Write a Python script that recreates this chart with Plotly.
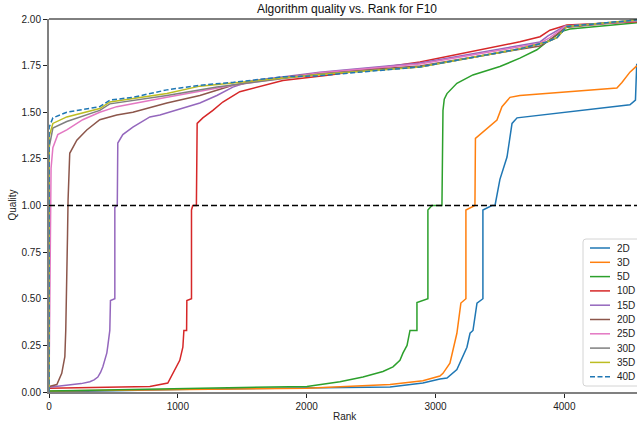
import plotly.graph_objects as go

# Rank / quality samples for each problem dimension (F10)
labels = ["2D", "3D", "5D", "10D", "15D", "20D", "25D", "30D", "35D", "40D"]
colors = ["#1f77b4", "#ff7f0e", "#2ca02c", "#d62728", "#9467bd",
          "#8c564b", "#e377c2", "#7f7f7f", "#bcbd22", "#1f77b4"]

rank_2d = [0, 1093, 2647, 2902, 3034, 3089, 3166, 3213, 3244, 3268, 3291, 3322, 3368, 3368,
           3438, 3462, 3500, 3555, 3578, 3594, 3633, 3757, 4509, 4552, 4562]
quality_2d = [0.0, 0.015, 0.027, 0.048, 0.07, 0.075, 0.12, 0.19, 0.24, 0.315, 0.33, 0.476, 0.50, 0.976,
              1.0, 1.0, 1.14, 1.26, 1.37, 1.44, 1.47, 1.48, 1.54, 1.565, 1.76]

rank_3d = [0, 2002, 2647, 2902, 3034, 3058, 3112, 3135, 3166, 3197, 3236, 3236, 3283, 3306, 3310,
           3399, 3477, 3516, 3578, 3655, 4408, 4447, 4509, 4564]
quality_3d = [0.005, 0.02, 0.04, 0.06, 0.086, 0.10, 0.155, 0.225, 0.315, 0.477, 0.50, 0.976, 0.99, 1.0, 1.36,
              1.415, 1.458, 1.53, 1.58, 1.59, 1.63, 1.66, 1.715, 1.75]

rank_5d = [0, 1093, 2002, 2258, 2437, 2592, 2670, 2724, 2748, 2779, 2802, 2856, 2856, 2941, 2941, 2972,
           3050, 3058, 3068, 3089, 3166, 3290, 3500, 3655, 3787, 3888, 3989, 4043, 4564]
quality_5d = [0.005, 0.02, 0.03, 0.055, 0.08, 0.11, 0.135, 0.17, 0.21, 0.25, 0.33, 0.33, 0.48, 0.50, 0.976, 1.0,
              1.0, 1.51, 1.57, 1.60, 1.655, 1.70, 1.745, 1.79, 1.835, 1.89, 1.935, 1.946, 1.98]

rank_10d = [0, 394, 783, 922, 961, 1015, 1039, 1047, 1068, 1070, 1106, 1106, 1116, 1144, 1150, 1194,
            1272, 1349, 1481, 1613, 1815, 2180, 2879, 3655, 3811, 3888, 4020, 4564]
quality_10d = [0.02, 0.025, 0.03, 0.048, 0.10, 0.17, 0.24, 0.33, 0.33, 0.49, 0.50, 0.976, 1.0, 1.0, 1.44, 1.47,
               1.51, 1.555, 1.61, 1.635, 1.67, 1.70, 1.77, 1.878, 1.905, 1.94, 1.968, 1.985]

rank_15d = [0, 185, 250, 317, 350, 379, 400, 418, 449, 457, 472, 477, 511, 511, 530, 534, 573, 651, 783,
            861, 1039, 1171, 1303, 1427, 1582, 2102, 2879, 3655, 3811, 3873, 4005, 4564]
quality_15d = [0.025, 0.04, 0.045, 0.055, 0.065, 0.08, 0.105, 0.135, 0.21, 0.25, 0.33, 0.49, 0.50, 0.99, 1.0,
               1.335, 1.38, 1.42, 1.475, 1.485, 1.52, 1.55, 1.59, 1.635, 1.67, 1.715, 1.764, 1.855, 1.877,
               1.91, 1.962, 1.99]

rank_20d = [0, 61, 99, 123, 130, 136, 144, 148, 161, 216, 293, 394, 526, 651, 915, 1171, 1427, 1637,
            2102, 2879, 3811, 3888, 4005, 4564]
quality_20d = [0.03, 0.04, 0.10, 0.19, 0.33, 0.49, 0.85, 1.03, 1.28, 1.35, 1.405, 1.46, 1.485, 1.50, 1.55,
               1.59, 1.645, 1.67, 1.71, 1.748, 1.855, 1.887, 1.955, 1.99]

rank_25d = [0, 4, 8, 12, 16, 30, 68, 138, 262, 394, 526, 915, 1427, 2102, 2879, 3811, 3888, 4005, 4564]
quality_25d = [0.02, 0.25, 0.6, 1.0, 1.2, 1.31, 1.38, 1.405, 1.46, 1.50, 1.53, 1.58, 1.645, 1.712, 1.759,
               1.87, 1.90, 1.96, 1.99]

rank_30d = [0, 1, 30, 138, 394, 472, 915, 1303, 2102, 2879, 3655, 3865, 3943, 4020, 4564]
quality_30d = [0.0, 1.31, 1.415, 1.45, 1.51, 1.545, 1.59, 1.635, 1.705, 1.743, 1.84, 1.877, 1.90, 1.96, 1.995]

rank_35d = [0, 1, 30, 138, 394, 472, 915, 1171, 2102, 2879, 3655, 3865, 3943, 4020, 4564]
quality_35d = [0.0, 1.37, 1.44, 1.475, 1.52, 1.555, 1.60, 1.64, 1.703, 1.743, 1.84, 1.877, 1.90, 1.96, 1.995]

rank_40d = [0, 1, 30, 138, 394, 472, 651, 915, 1171, 1427, 1815, 2079, 2879, 3655, 3865, 3943, 4020, 4564]
quality_40d = [0.0, 1.42, 1.47, 1.50, 1.53, 1.565, 1.58, 1.62, 1.645, 1.66, 1.69, 1.695, 1.743, 1.84, 1.877,
               1.90, 1.96, 1.995]

ranks = [rank_2d, rank_3d, rank_5d, rank_10d, rank_15d, rank_20d, rank_25d, rank_30d, rank_35d, rank_40d]
qualities = [quality_2d, quality_3d, quality_5d, quality_10d, quality_15d, quality_20d, quality_25d,
             quality_30d, quality_35d, quality_40d]

FONT = "Liberation Sans, Arial, Helvetica, sans-serif"
W, H = 637, 423
L, R, T, B = 49, 0, 19, 31
PW, PH = W - L - R, H - T - B


def px_x(px):
    """Horizontal pixel position -> paper coordinate."""
    return (px - L) / PW


def px_y(py):
    """Vertical pixel position (from top) -> paper coordinate."""
    return (H - B - py) / PH


def dash_of(name):
    return "5px,2.5px" if name == "40D" else "solid"


fig = go.Figure()
for name, color, xs, ys in zip(labels, colors, ranks, qualities):
    fig.add_trace(go.Scatter(
        x=xs, y=ys, mode="lines", name=name, showlegend=False,
        line=dict(color=color, width=1.5, dash=dash_of(name)),
    ))

shapes = [
    # threshold at quality 1.0
    dict(type="line", xref="paper", yref="y", x0=0, x1=1, y0=1.0, y1=1.0,
         line=dict(color="black", width=1.5, dash="6px,3px")),
    # top frame edge
    dict(type="line", xref="paper", yref="paper", x0=0, x1=1, y0=1, y1=1,
         line=dict(color="black", width=1)),
]

# legend box (rounded) in the lower right corner
bx0, bx1, by0, by1, rad = 583, 650, 239, 386, 3
path = (f"M {px_x(bx0 + rad)},{px_y(by0)} L {px_x(bx1 - rad)},{px_y(by0)} "
        f"Q {px_x(bx1)},{px_y(by0)} {px_x(bx1)},{px_y(by0 + rad)} "
        f"L {px_x(bx1)},{px_y(by1 - rad)} Q {px_x(bx1)},{px_y(by1)} {px_x(bx1 - rad)},{px_y(by1)} "
        f"L {px_x(bx0 + rad)},{px_y(by1)} Q {px_x(bx0)},{px_y(by1)} {px_x(bx0)},{px_y(by1 - rad)} "
        f"L {px_x(bx0)},{px_y(by0 + rad)} Q {px_x(bx0)},{px_y(by0)} {px_x(bx0 + rad)},{px_y(by0)} Z")
shapes.append(dict(type="path", xref="paper", yref="paper", path=path,
                   fillcolor="rgba(255,255,255,0.85)", line=dict(color="#d4d4d4", width=1)))

annotations = [
    dict(text="Rank", xref="paper", yref="paper", x=px_x(345), y=0, yshift=-24,
         showarrow=False, xanchor="center", yanchor="middle", font=dict(size=10)),
    dict(text="Quality", xref="paper", yref="paper", x=0, xshift=-37, y=0.5, textangle=-90,
         showarrow=False, xanchor="center", yanchor="middle", font=dict(size=10)),
]

row0, step = 248, 14.3
for i, (name, color) in enumerate(zip(labels, colors)):
    ry = row0 + i * step
    shapes.append(dict(type="line", xref="paper", yref="paper",
                       x0=px_x(590), x1=px_x(610), y0=px_y(ry), y1=px_y(ry),
                       line=dict(color=color, width=1.5, dash=dash_of(name))))
    annotations.append(dict(text=name, xref="paper", yref="paper", x=px_x(615), y=px_y(ry),
                            showarrow=False, xanchor="left", yanchor="middle",
                            font=dict(size=10, color="#222")))

fig.update_layout(
    width=W, height=H,
    margin=dict(l=L, r=R, t=T, b=B),
    plot_bgcolor="white", paper_bgcolor="white",
    font=dict(family=FONT, size=10, color="#222"),
    title=dict(text="Algorithm quality vs. Rank for F10", x=347 / W, xref="container",
               xanchor="center", y=1 - 9 / H, yref="container", yanchor="middle",
               font=dict(size=12, color="#111")),
    showlegend=False,
    shapes=shapes,
    annotations=annotations,
)
fig.update_xaxes(range=[0, 4564], tickvals=[0, 1000, 2000, 3000, 4000], showgrid=False, zeroline=False,
                 showline=True, linecolor="#808080", linewidth=2, ticks="outside", ticklen=4,
                 tickcolor="#222", tickfont=dict(size=10))
fig.update_yaxes(range=[0, 2], tickvals=[0, 0.25, 0.5, 0.75, 1.0, 1.25, 1.5, 1.75, 2.0], tickformat=".2f",
                 showgrid=False, zeroline=False, showline=True, linecolor="#808080", linewidth=2,
                 ticks="outside", ticklen=4, tickcolor="#222", tickfont=dict(size=10))

fig.write_html("out.html")
